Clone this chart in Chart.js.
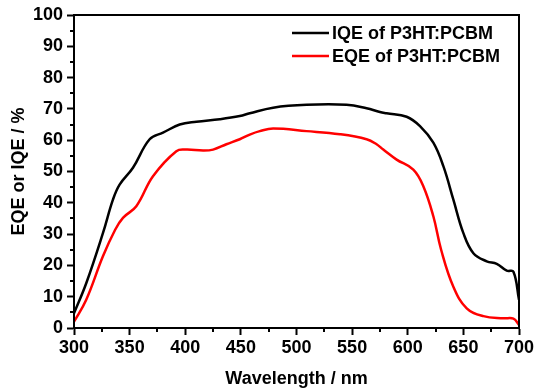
<!DOCTYPE html>
<html>
<head>
<meta charset="utf-8">
<script src="https://cdn.jsdelivr.net/npm/chart.js@4"></script>
<style>
  html, body { margin: 0; padding: 0; background: #fff; }
  #wrap { width: 534px; height: 392px; }
</style>
</head>
<body>
<div id="wrap"><canvas id="eqe"></canvas></div>
<script>
const iqeWl  = [300, 311, 326, 335, 341, 353, 368, 380, 395, 410, 431, 449, 458, 479, 509, 545, 563, 575, 581, 599, 611, 623, 632, 641, 650, 659, 671, 680, 689, 695, 700];
const iqeVal = [4.7, 14.3, 30.3, 41, 45.8, 51.2, 60.3, 62.4, 65, 65.9, 66.7, 67.7, 68.6, 70.4, 71.3, 71.3, 70.2, 69, 68.6, 67.5, 64.5, 59.2, 51.7, 41, 30.3, 23.9, 21.3, 20.5, 18.3, 18, 9];

const eqeWl  = [300, 311, 326, 337, 344, 356, 371, 392, 401, 416, 425, 437, 449, 458, 467, 479, 509, 539, 563, 572, 578, 590, 605, 614, 623, 630, 641, 653, 668, 686, 695, 700];
const eqeVal = [2, 9, 22.9, 31.4, 35.2, 38.9, 48.5, 56.5, 57, 56.7, 57, 58.7, 60.3, 61.8, 62.9, 63.7, 62.9, 61.9, 60.3, 58.7, 57, 53.8, 50.6, 45.3, 35.7, 25, 13.2, 6.3, 3.8, 3.1, 3, 1];

const labels = ['IQE of P3HT:PCBM', 'EQE of P3HT:PCBM'];
const colors = ['#000000', '#ff0000'];

const xTicks = [300, 350, 400, 450, 500, 550, 600, 650, 700];
const yTicks = [0, 10, 20, 30, 40, 50, 60, 70, 80, 90, 100];

const pts = (xs, ys) => xs.map((x, i) => ({ x: x, y: ys[i] }));

const font = { family: 'Liberation Sans, Arial, sans-serif', weight: 'bold', size: 18 };

// frame, minor ticks and the legend box inside the plot
const extras = {
  id: 'extras',
  afterDraw(chart) {
    const c = chart.ctx, a = chart.chartArea;
    const xs = chart.scales.x, ys = chart.scales.y;
    c.save();
    c.strokeStyle = '#000';
    c.lineWidth = 2;
    c.strokeRect(a.left, a.top, a.right - a.left, a.bottom - a.top);
    c.beginPath();
    for (let v = 325; v < 700; v += 50) {
      const p = Math.round(xs.getPixelForValue(v));
      c.moveTo(p, a.bottom); c.lineTo(p, a.bottom + 4);
    }
    for (let v = 5; v < 100; v += 10) {
      const p = Math.round(ys.getPixelForValue(v));
      c.moveTo(a.left, p); c.lineTo(a.left - 4, p);
    }
    c.stroke();
    // legend
    c.font = 'bold 18px ' + font.family;
    c.textBaseline = 'middle';
    chart.data.datasets.forEach((ds, i) => {
      const y = a.top + 18 + i * 23;
      const x0 = a.right - 227;
      c.strokeStyle = ds.borderColor;
      c.lineWidth = 2.5;
      c.beginPath(); c.moveTo(x0, y); c.lineTo(x0 + 37, y); c.stroke();
      c.fillStyle = '#000';
      c.fillText(ds.label, x0 + 40, y + 1);
    });
    c.restore();
  }
};

new Chart(document.getElementById('eqe'), {
  type: 'line',
  data: {
    datasets: [
      { label: labels[0], data: pts(iqeWl, iqeVal), borderColor: colors[0], borderWidth: 2.5, pointRadius: 0, tension: 0.4, fill: false },
      { label: labels[1], data: pts(eqeWl, eqeVal), borderColor: colors[1], borderWidth: 2.5, pointRadius: 0, tension: 0.4, fill: false }
    ]
  },
  options: {
    responsive: true,
    maintainAspectRatio: false,
    animation: false,
    layout: { padding: { top: 15, right: 15, left: 0, bottom: 0 } },
    plugins: { legend: { display: false }, tooltip: { enabled: false } },
    scales: {
      x: {
        type: 'linear',
        min: 300, max: 700,
        afterBuildTicks: s => { s.ticks = xTicks.map(v => ({ value: v })); },
        afterFit: s => { s.height = 64; s.paddingRight = 0; s.paddingLeft = 0; },
        ticks: { color: '#000', font: font, padding: 2, maxRotation: 0 },
        grid: { drawOnChartArea: false, drawTicks: true, tickLength: 7, tickWidth: 2, tickColor: '#000' },
        border: { color: '#000', width: 2 },
        title: { display: true, text: 'Wavelength / nm', color: '#000', font: font, padding: { top: 4, bottom: 2 } }
      },
      y: {
        min: 0, max: 100,
        afterBuildTicks: s => { s.ticks = yTicks.map(v => ({ value: v })); },
        afterFit: s => { s.width = 74; s.paddingTop = 0; s.paddingBottom = 0; },
        ticks: { color: '#000', font: font, padding: 4 },
        grid: { drawOnChartArea: false, drawTicks: true, tickLength: 7, tickWidth: 2, tickColor: '#000' },
        border: { color: '#000', width: 2 },
        title: { display: true, text: 'EQE or IQE / %', color: '#000', font: font, padding: { top: 8, bottom: 4 } }
      }
    }
  },
  plugins: [extras]
});
</script>
</body>
</html>
